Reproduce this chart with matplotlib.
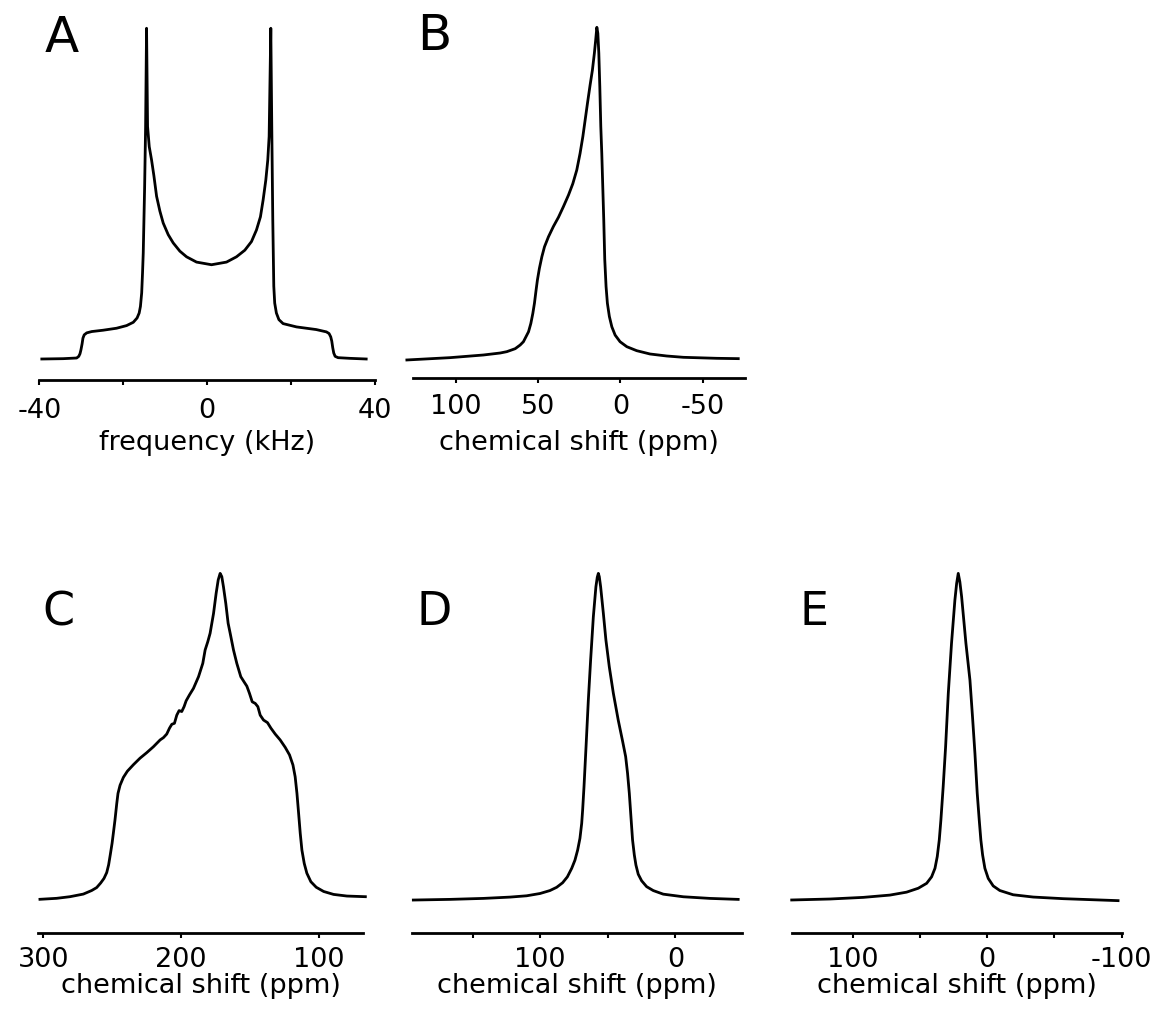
import matplotlib
matplotlib.use('Agg')
import matplotlib.pyplot as plt

plt.rcParams['font.family'] = ['DejaVu Sans']

# A: powder pattern, frequency in kHz
a_x = [-39.4, -34.3, -31.1, -30.6, -30.3, -30.07, -29.8, -29.6, -29.3, -28.7,
       -27.5, -24.8, -21.6, -19.2, -17.6, -16.7, -16.2, -15.9, -15.6, -15.4,
       -15.23, -14.9, -14.67, -14.44, -14.2, -13.8, -13.25, -12.69, -12.05, -11.26,
       -10.47, -9.28, -8.09, -6.5, -4.91, -2.53, 1.04, 4.61, 6.99, 8.98,
       10.56, 11.75, 12.7, 13.34, 13.98, 14.45, 14.77, 15.17, 15.4, 15.64,
       15.88, 16.1, 16.5, 17.1, 18.1, 21.3, 26.0, 28.42, 29.05, 29.45,
       29.7, 29.93, 30.17, 30.5, 31.2, 34.0, 37.9]
a_y = [0, 0.1, 0.3, 0.8, 1.6, 2.8, 4.6, 6.3, 7.3, 7.9,
       8.3, 8.7, 9.3, 10.1, 11.1, 12.4, 13.9, 15.9, 20, 26,
       32, 52, 70, 100, 70.3, 64.2, 60.2, 55.4, 49.2, 44.7,
       41.1, 37.6, 35.1, 32.6, 30.9, 29.3, 28.5, 29.3, 30.9, 32.9,
       35.5, 39.0, 43.0, 48.1, 54.1, 60.2, 67.3, 100, 70.3, 42.1,
       22, 16.9, 13.9, 11.9, 10.7, 9.7, 8.9, 8.2, 7.7, 6.7,
       5.4, 3.4, 1.8, 0.8, 0.4, 0.2, 0]

# B: chemical shift (ppm)
b_x = [129.7, 103.4, 83.2, 73.0, 69.0, 63.9, 60.9, 58.9, 55.8, 54.4,
       53.2, 52.2, 51.2, 50.4, 49.2, 47.7, 46.1, 43.7, 40.7, 37.6,
       34.6, 31.5, 28.9, 26.5, 24.5, 22.8, 21.4, 20.0, 18.4, 17.0,
       15.8, 15.0, 14.3, 13.7, 13.1, 12.5, 11.9, 11.3, 10.7, 10.1,
       9.5, 8.7, 7.9, 6.7, 5.2, 3.2, 0.2, -3.9, -9.9, -18.0,
       -28.1, -38.3, -58.5, -71.6]
b_y = [-0.2, 0.5, 1.3, 1.9, 2.3, 3.2, 4.3, 5.3, 8.3, 10.8,
       13.8, 16.9, 20.9, 23.9, 27.4, 30.9, 33.9, 36.9, 40.0, 42.8,
       46.0, 49.5, 52.9, 57.0, 62.0, 67.1, 72.1, 77.1, 82.6, 87.1,
       92.2, 96.2, 100, 98.2, 92.2, 82.1, 70.1, 62.0, 52.0, 42.0,
       30.1, 21.9, 16.9, 12.9, 9.8, 7.3, 5.3, 3.8, 2.6, 1.6,
       1.0, 0.6, 0.3, 0.2]

# C
c_x = [302.4, 290.3, 280.6, 270.9, 264.8, 261.2, 258.3, 255.9, 253.9, 252.5,
       251.3, 250.0, 249.1, 247.9, 246.6, 245.7, 244.2, 241.8, 238.9, 234.5,
       229.7, 224.8, 220.0, 215.1, 212.7, 210.3, 208.3, 206.6, 204.7, 203.0,
       201.3, 199.4, 197.7, 196.2, 193.8, 190.9, 187.2, 184.1, 182.4, 180.5,
       178.8, 176.3, 174.4, 172.9, 171.5, 170.3, 169.1, 167.4, 165.7, 164.2,
       161.8, 159.4, 156.5, 153.8, 152.1, 150.2, 148.2, 146.0, 144.1, 142.4,
       140.0, 137.1, 134.6, 131.5, 127.9, 124.2, 121.1, 118.6, 117.0, 115.7,
       114.5, 113.3, 112.1, 110.4, 108.5, 105.6, 101.7, 96.3, 89.1, 79.4, 66.0]
c_y = [0, 0.3, 0.8, 1.6, 2.7, 3.6, 5.0, 6.4, 8.2, 10.6,
       13.7, 17.2, 20.2, 24.3, 29.4, 32.5, 35.0, 37.4, 39.3, 41.3,
       43.3, 45.0, 46.8, 48.9, 49.6, 50.7, 52.5, 53.7, 54.0, 56.5,
       57.9, 57.6, 59.1, 60.9, 62.7, 64.7, 68.3, 72.4, 76.5, 79.0,
       81.6, 87.7, 93.9, 98.0, 100, 99.0, 95.9, 90.8, 84.7, 81.6,
       76.5, 72.4, 68.3, 66.5, 65.4, 63.2, 60.6, 60.1, 59.1, 56.5,
       55.0, 54.2, 52.5, 50.7, 48.9, 46.6, 44.3, 41.2, 37.6, 32.5,
       26.4, 20.2, 15.1, 11.0, 8.0, 5.4, 3.7, 2.4, 1.5, 1.0, 0.8]

# D
d_x = [193.8, 166.7, 142.0, 122.3, 110.0, 100.1, 92.8, 87.8, 83.4, 79.9,
       76.7, 74.3, 72.3, 70.6, 69.3, 68.6, 67.6, 66.1, 64.4, 62.7,
       60.7, 58.8, 57.8, 57.0, 56.3, 55.3, 53.3, 51.4, 48.9, 45.9,
       42.3, 39.0, 36.8, 35.4, 34.1, 32.9, 31.7, 30.4, 29.2, 27.5,
       25.0, 21.3, 16.4, 9.0, -5.8, -25.5, -46.4]
d_y = [0, 0.2, 0.5, 0.9, 1.3, 2.0, 2.9, 3.9, 5.3, 7.1,
       9.7, 12.2, 15.3, 18.9, 23.5, 27.6, 34.7, 46.9, 61.2, 73.5,
       86.7, 95.9, 98.8, 100, 99.0, 95.9, 87.8, 79.6, 71.4, 63.3,
       55.1, 48.5, 43.9, 38.8, 32.7, 25.5, 18.4, 13.8, 10.7, 7.9,
       5.9, 4.1, 2.9, 1.8, 1.0, 0.5, 0.2]

# E
e_x = [145.3, 116.8, 92.1, 72.3, 59.9, 51.2, 45.0, 41.3, 38.8, 37.1,
       35.6, 34.4, 32.7, 30.9, 28.9, 26.5, 24.0, 22.7, 21.5, 20.3,
       19.0, 15.8, 12.8, 10.9, 9.1, 7.4, 5.9, 4.7, 3.4, 1.7,
       -0.8, -4.5, -9.4, -19.3, -34.2, -56.5, -97.3]
e_y = [0, 0.3, 0.8, 1.5, 2.4, 3.6, 5.1, 7.1, 9.7, 13.3,
       18.4, 24.5, 34.7, 46.9, 63.3, 78.6, 91.8, 96.9, 100, 97.4,
       92.9, 78.6, 67.3, 56.1, 44.9, 32.7, 24.5, 18.4, 13.8, 9.7,
       6.6, 4.3, 2.9, 1.6, 0.9, 0.4, -0.2]

a_ticks = [-40, -20, 0, 20, 40]
a_labels = ['-40', '', '0', '', '40']
b_ticks = [100, 50, 0, -50]
b_labels = ['100', '50', '0', '-50']
c_ticks = [300, 200, 100]
c_labels = ['300', '200', '100']
d_ticks = [150, 100, 50, 0]
d_labels = ['', '100', '', '0']
e_ticks = [100, 50, 0, -50, -100]
e_labels = ['100', '', '0', '', '-100']

W, H = 1155, 1010
fig = plt.figure(figsize=(W / 100, H / 100), dpi=100)


def panel(x, y, letter, xlabel, ticks, labels, box, xlim, ylim, pad, label_base, letter_pos, letter_size):
    left, right, top, bottom = box
    ax = fig.add_axes([left / W, 1 - bottom / H, (right - left) / W, (bottom - top) / H])
    ax.plot(x, y, color='black', lw=2.0, clip_on=False, solid_joinstyle='round')
    ax.set_xlim(xlim)
    ax.set_ylim(ylim)
    for s in ['left', 'right', 'top']:
        ax.spines[s].set_visible(False)
    ax.spines['bottom'].set_linewidth(2.0)
    ax.set_yticks([])
    ax.set_xticks(ticks)
    ax.set_xticklabels(labels)
    ax.tick_params(axis='x', direction='out', length=3.6, width=1.5, pad=pad, labelsize=19.5)
    ax.set_xlabel(xlabel, fontsize=19.5, va='baseline')
    ax.xaxis.set_label_coords(0.5, (bottom - label_base) / (bottom - top))
    ax.patch.set_alpha(0)
    fig.text(letter_pos[0] / W, 1 - letter_pos[1] / H, letter, fontsize=letter_size,
             ha='left', va='baseline')
    return ax


shift = 'chemical shift (ppm)'
panel(a_x, a_y, 'A', 'frequency (kHz)', a_ticks, a_labels, (39.3, 375, 20, 380),
      (-40, 40), (-6.35, 102.5), 9.4, 450, (44.5, 51.7), 36)
panel(b_x, b_y, 'B', shift, b_ticks, b_labels, (413.3, 745, 20, 378.3),
      (125.8, -75.7), (-5.72, 102.2), 7.7, 450, (417, 50.5), 36)
panel(c_x, c_y, 'C', shift, c_ticks, c_labels, (38.3, 363.3, 560, 933.3),
      (303.6, 67.5), (-10.43, 104.1), 6.5, 993, (42.5, 625), 33)
panel(d_x, d_y, 'D', shift, d_ticks, d_labels, (411.7, 741.7, 560, 932.7),
      (195, -49), (-10.0, 104.1), 6.5, 993, (416.5, 625), 33)
panel(e_x, e_y, 'E', shift, e_ticks, e_labels, (791.7, 1121.7, 560, 933.3),
      (145.3, -99.8), (-10.2, 104.1), 6.5, 993, (799.5, 625), 33)

fig.savefig('out.png', dpi=100, facecolor='white')
